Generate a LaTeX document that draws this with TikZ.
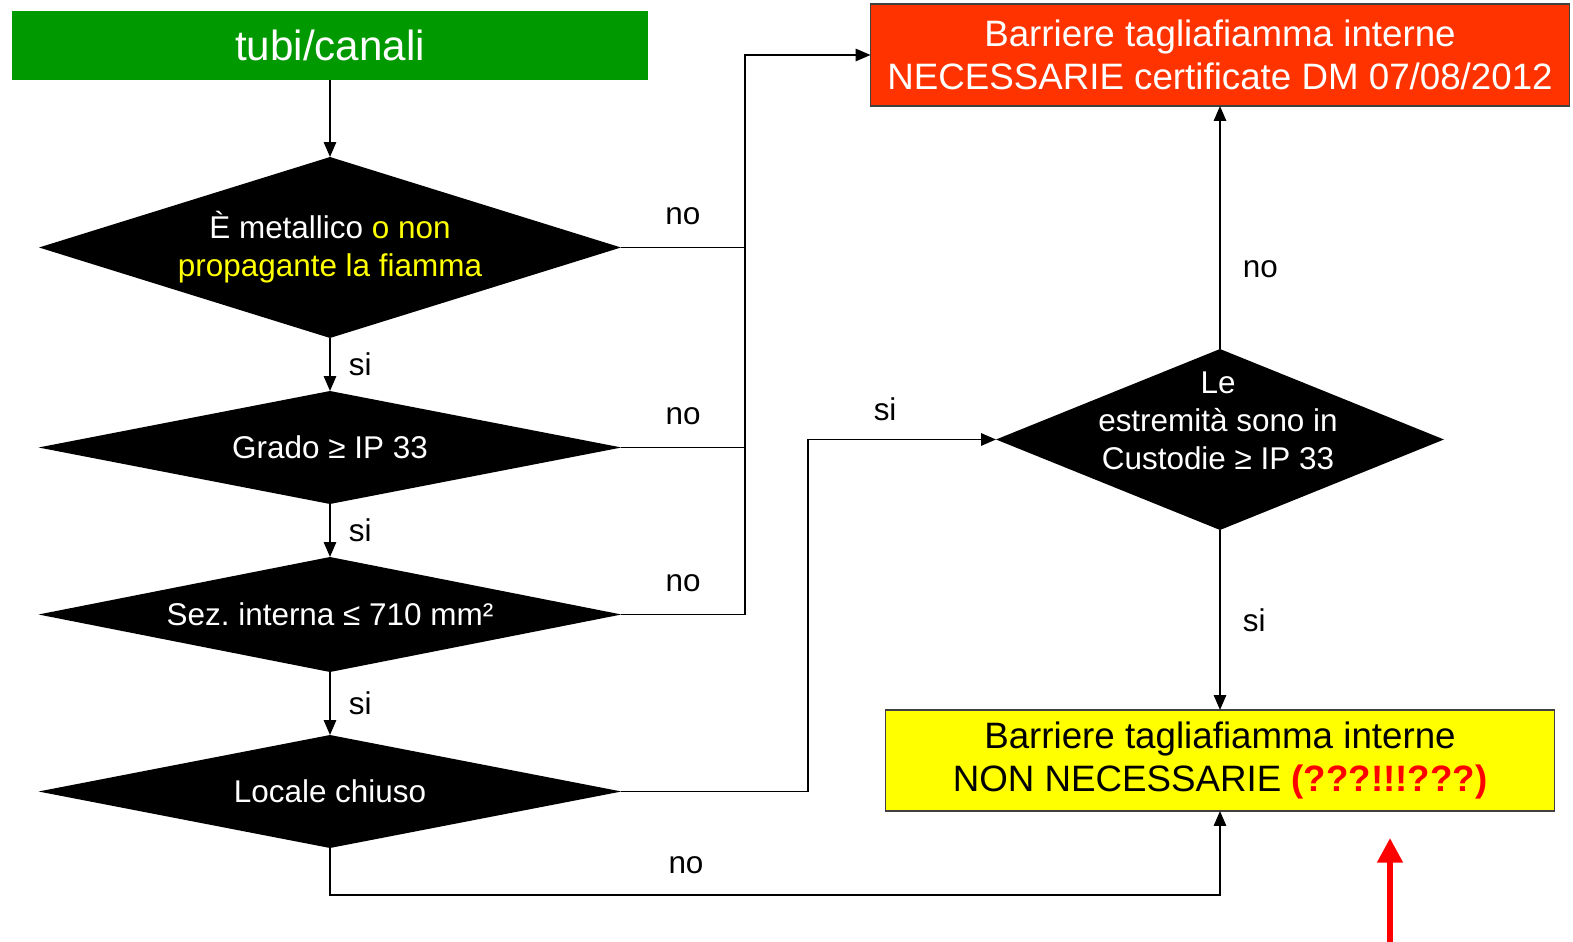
\documentclass[tikz,border=0pt]{standalone}
\usepackage{fontspec}
\setmainfont{Liberation Sans}
\usetikzlibrary{shapes.geometric,arrows.meta}

\definecolor{startgreen}{RGB}{0,153,0}
\definecolor{needred}{RGB}{255,51,0}
\definecolor{okyellow}{RGB}{255,255,0}
\definecolor{alertred}{RGB}{255,0,0}

\tikzset{
  decision/.style={diamond, fill=black, text=white, inner sep=0pt, outer sep=0pt,
    shape aspect=5.1, minimum width=11.66cm, minimum height=2.26cm, align=center,
    font=\fontsize{17.9}{21.5}\selectfont},
  outcome/.style={draw=black!75, line width=0.6pt, inner sep=0pt, outer sep=0pt,
    minimum width=13.4cm, minimum height=2.02cm, align=center,
    font=\fontsize{20.9}{24.4}\selectfont},
  flow/.style={line width=1.1pt, -{Triangle[length=8.5pt,width=7pt]}},
  link/.style={line width=1.1pt},
  lbl/.style={inner sep=0pt, font=\fontsize{17.9}{21.5}\selectfont},
}

\begin{document}
\begin{tikzpicture}[x=0.02cm, y=-0.02cm]
  \useasboundingbox (0,0) rectangle (1573,942);

  % left column
  \node[fill=startgreen, text=white, inner sep=0pt, minimum width=12.72cm,
    minimum height=1.38cm, font=\fontsize{24}{28}\selectfont] (start) at (330,45.5) {tubi/canali};
  \node[decision, shape aspect=3.2, minimum width=11.64cm, minimum height=3.62cm] (metal) at (330,247.5)
    {È metallico \textcolor{okyellow}{o non}\\\textcolor{okyellow}{propagante la fiamma}};
  \node[decision] (grado) at (330,447.5) {Grado ≥ IP 33};
  \node[decision, minimum height=2.3cm] (sez) at (330,614.5) {Sez.\ interna ≤ 710 mm²};
  \node[decision] (locale) at (330,791.5) {Locale chiuso};

  % right column
  \node[outcome, fill=needred, text=white, minimum width=13.98cm, minimum height=2.04cm] (needed) at (1220,55)
    {Barriere tagliafiamma interne\\NECESSARIE certificate DM 07/08/2012};
  \node[decision, minimum width=8.96cm, minimum height=3.62cm] (custodie) at (1220,439.5) {};
  \node[lbl, text=white, align=center] (custtext) at (1218,421)
    {Le\\estremità sono in\\Custodie ≥ IP 33};
  \node[outcome, fill=okyellow] (notneeded) at (1220,760.5)
    {Barriere tagliafiamma interne\\NON NECESSARIE \textcolor{alertred}{\textbf{(???!!!???)}}};

  \coordinate (jx) at (745,0);
  \coordinate (kx) at (808,0);
  \coordinate (jb) at (0,895);
  \coordinate (pointfrom) at (1390,942);
  \coordinate (pointto) at (1390,838);

  % si branches
  \draw[flow] (start) -- (metal);
  \draw[flow] (metal) -- node[lbl, anchor=west, xshift=10.2pt] {si} (grado);
  \draw[flow] (grado) -- node[lbl, anchor=west, xshift=10.2pt] {si} (sez);
  \draw[flow] (sez) -- node[lbl, anchor=west, xshift=10.2pt] {si} (locale);

  % no branches
  \draw[link] (metal.east) -- node[lbl, above=12.5pt] {no} (metal.east -| jx);
  \draw[link] (grado.east) -- node[lbl, above=12.5pt] {no} (grado.east -| jx);
  \draw[flow] (sez.east) -- node[lbl, above=12.5pt] {no} (sez.east -| jx)
    -- (needed.west -| jx) -- (needed.west);
  \draw[flow] (locale.east) -- (locale.east -| kx) -- (custodie.west -| kx)
    -- node[lbl, above=10.2pt, pos=0.41] {si} (custodie.west);
  \draw[flow] (locale.south) -- (locale.south |- jb)
    -- node[lbl, above=11.3pt, pos=0.4] {no} (notneeded.south |- jb) -- (notneeded.south);
  \draw[flow] (custodie) -- node[lbl, anchor=west, xshift=12.5pt, pos=0.33] {no} (needed);
  \draw[flow] (custodie) -- node[lbl, anchor=west, xshift=12.5pt] {si} (notneeded);

  \draw[alertred, line width=3.2pt, -{Triangle[length=14pt,width=14pt]}] (pointfrom) -- (pointto);
\end{tikzpicture}
\end{document}
